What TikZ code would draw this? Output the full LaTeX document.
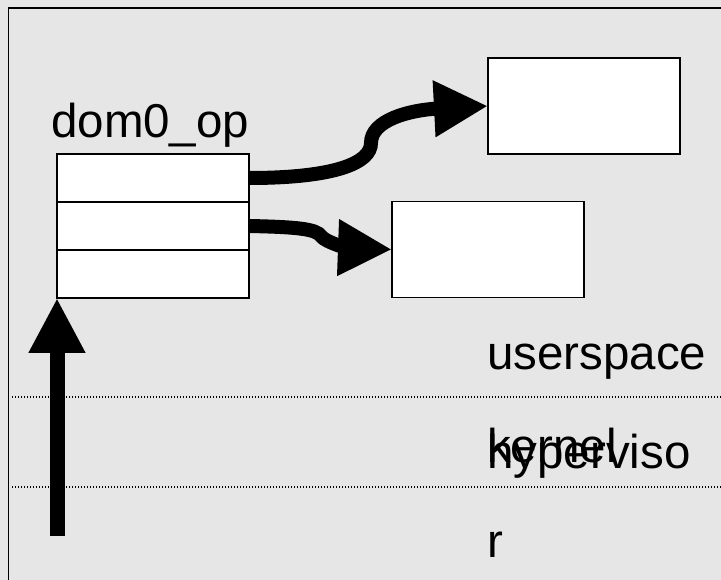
\documentclass[tikz,border=0pt]{standalone}
\usepackage{fontspec}
\setmainfont{Liberation Sans}
\usetikzlibrary{arrows.meta}
\definecolor{bggray}{HTML}{E6E6E6}
\begin{document}
\begin{tikzpicture}[x=1pt,y=-1pt,
  cell/.style={draw=black,fill=white,line width=1.5pt,minimum width=192pt,minimum height=48pt,inner sep=0pt,outer sep=0pt},
  tbox/.style={draw=black,fill=white,line width=1.5pt,minimum width=192pt,minimum height=96pt,inner sep=0pt,outer sep=0pt},
  lbl/.style={inner sep=0pt,anchor=base west,font=\fontsize{47.5pt}{47.5pt}\selectfont},
  bigarrow/.style={line width=14pt,-{Triangle[length=54pt,width=53pt]}},
  layer/.style={line width=1.3pt,black,dash pattern=on 1.2pt off 1.8pt}]
\useasboundingbox (0,0) rectangle (721,580);
\fill[bggray] (0,0) rectangle (721,580);
\draw[line width=1.8pt] (8.5,600) -- (8.5,8) -- (740,8);
% layer separators
\coordinate (l1a) at (12,397);
\coordinate (l1b) at (721,397);
\coordinate (l2a) at (12,487);
\coordinate (l2b) at (721,487);
\draw[layer] (l1a) -- (l1b);
\draw[layer] (l2a) -- (l2b);
% table
\node[cell] (row1) at (153,178) {};
\node[cell] (row2) at (153,226) {};
\node[cell] (row3) at (153,274) {};
\node[lbl] (title) at (51,138) {dom0\_op};
% target boxes
\node[tbox] (box1) at (584,106) {};
\node[tbox] (box2) at (488,249.5) {};
% labels
\node[lbl] (user) at (487,370) {userspace};
\node[lbl] (kern) at (487,462) {kernel};
\node[lbl,align=left] (hyp) at (487,557) {hyperviso\\[41.5pt]r};
% connectors
\draw[bigarrow] (row1.east) .. controls (335,178) and (371,163) .. (371,143)
  .. controls (371,120) and (410,110) .. (box1.west);
\draw[bigarrow] (row2.east) .. controls (298,227) and (316,229) .. (321,236)
  .. controls (326,243) and (350,248) .. (box2.west);
\coordinate (upstart) at (57,536);
\draw[line width=15pt,-{Triangle[length=55pt,width=53pt]}] (upstart) -- (row3.south west);
\end{tikzpicture}
\end{document}
